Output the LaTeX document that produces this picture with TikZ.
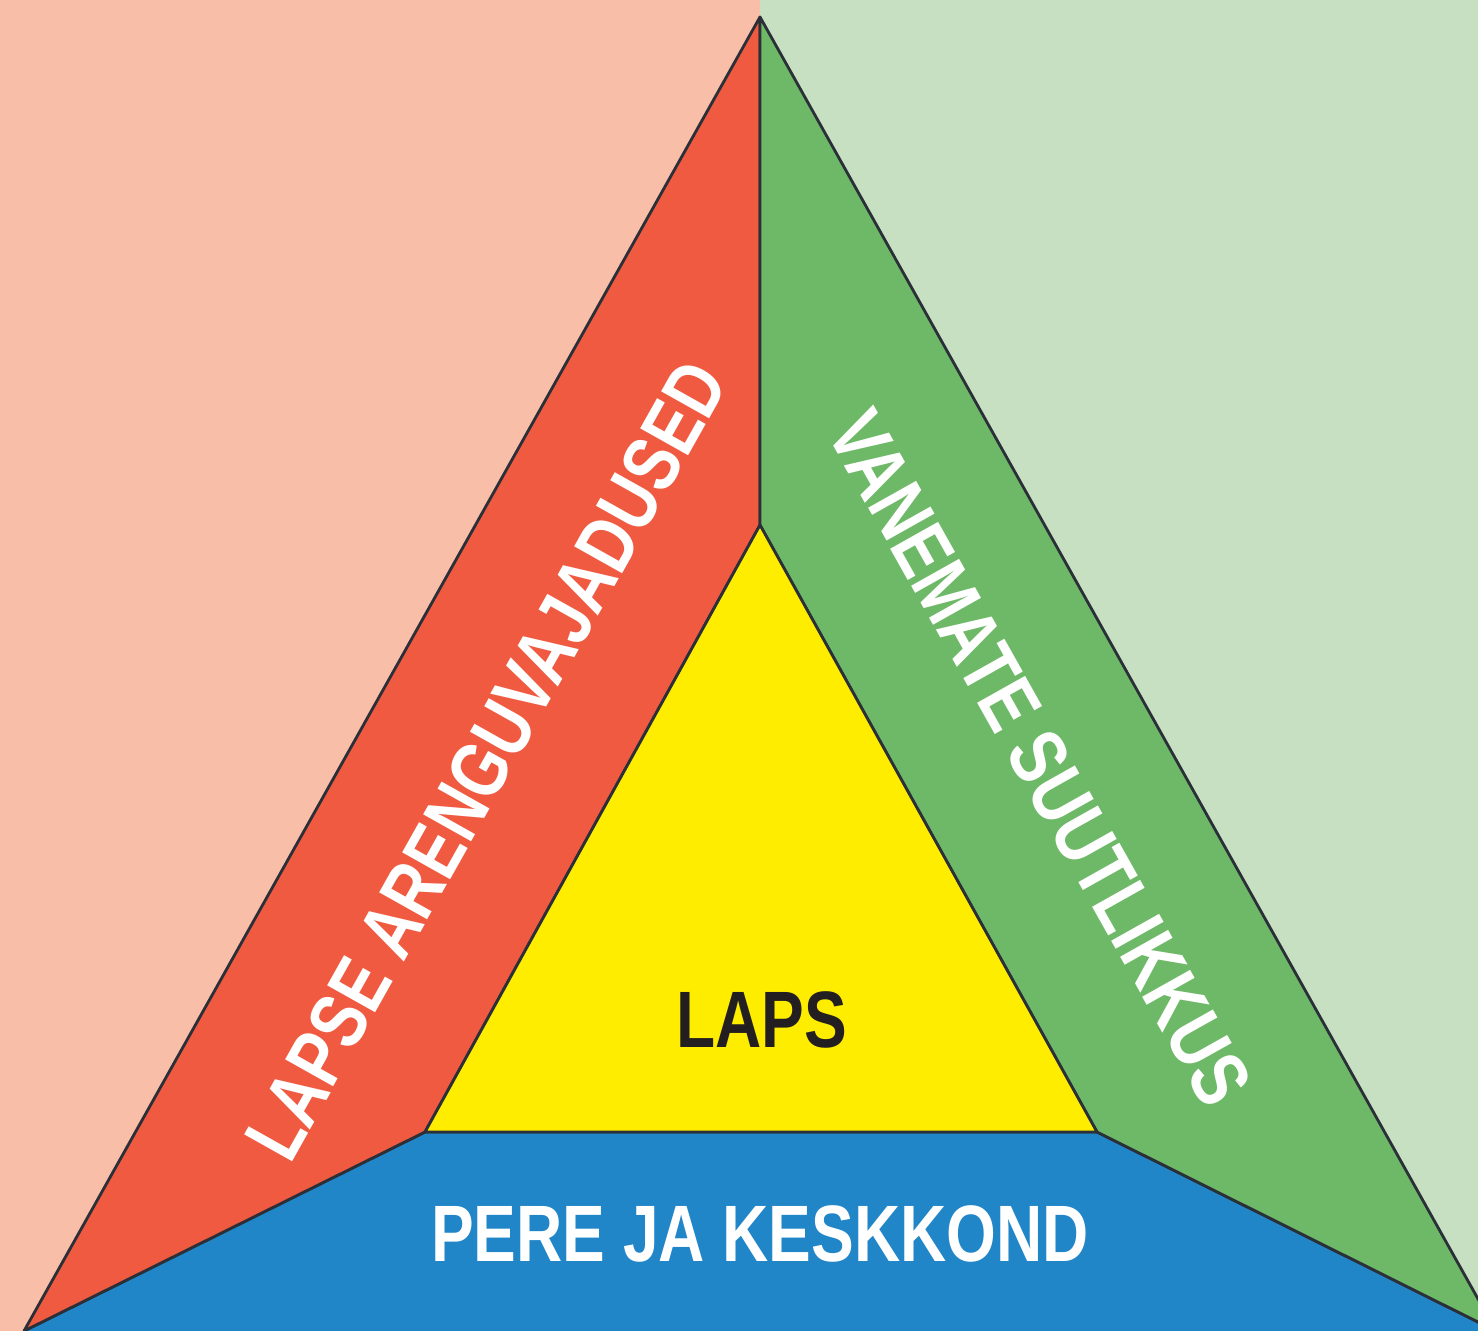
\documentclass[tikz,border=0pt]{standalone}
\usepackage{fontspec}
\setmainfont{Liberation Sans}
\usetikzlibrary{positioning}
\definecolor{peachbg}{RGB}{248,190,168}
\definecolor{greenbg}{RGB}{200,224,194}
\definecolor{needred}{RGB}{240,90,64}
\definecolor{parentgreen}{RGB}{110,185,103}
\definecolor{familyblue}{RGB}{33,134,200}
\definecolor{childyellow}{RGB}{255,237,0}
\definecolor{edgegray}{RGB}{43,47,56}
\definecolor{textdark}{RGB}{35,31,32}
\newcommand{\narrowtext}[1]{\scalebox{0.8}[1]{#1}}

\begin{document}
\begin{tikzpicture}[
    x=0.5pt, y=-0.5pt,
    part/.style={draw=edgegray, line width=1.4pt, line join=round},
    label/.style={inner sep=0pt, text=white, font=\fontsize{40}{48}\selectfont\bfseries},
    darklabel/.style={label, text=textdark}
]

    % background halves
    \useasboundingbox (0,0) rectangle (1478,1331);
    \clip (0,0) rectangle (1478,1331);
    \fill[peachbg] (0,0) rectangle (760,1331);
    \fill[greenbg] (760,0) rectangle (1478,1331);

    % corners
    \coordinate (top) at (760,17);
    \coordinate (botleft) at (24,1331);
    \coordinate (botright) at (1496,1331);
    \coordinate (inner) at (760,525);
    \coordinate (innerleft) at (425,1132);
    \coordinate (innerright) at (1097,1132);

    % the four parts
    \fill[familyblue] (botleft) -- (innerleft) -- (innerright) -- (botright) -- (1496,1340) -- (24,1340) -- cycle;
    \draw[part] (botleft) -- (innerleft) -- (innerright) -- (botright);
    \filldraw[part, fill=needred] (top) -- (inner) -- (innerleft) -- (botleft) -- cycle;
    \filldraw[part, fill=parentgreen] (top) -- (botright) -- (innerright) -- (inner) -- cycle;
    \filldraw[part, fill=childyellow] (inner) -- (innerleft) -- (innerright) -- cycle;

    % texts
    \node[label, rotate=60.7] (needs) at (486,760) {\narrowtext{LAPSE ARENGUVAJADUSED}};
    \node[label, rotate=-60.7] (skills) at (1040,758) {\narrowtext{VANEMATE SUUTLIKKUS}};
    \node[label] (family) at (760,1234) {\narrowtext{PERE JA KESKKOND}};
    \node[darklabel] (child) at (762,1020) {\narrowtext{LAPS}};

\end{tikzpicture}
\end{document}
